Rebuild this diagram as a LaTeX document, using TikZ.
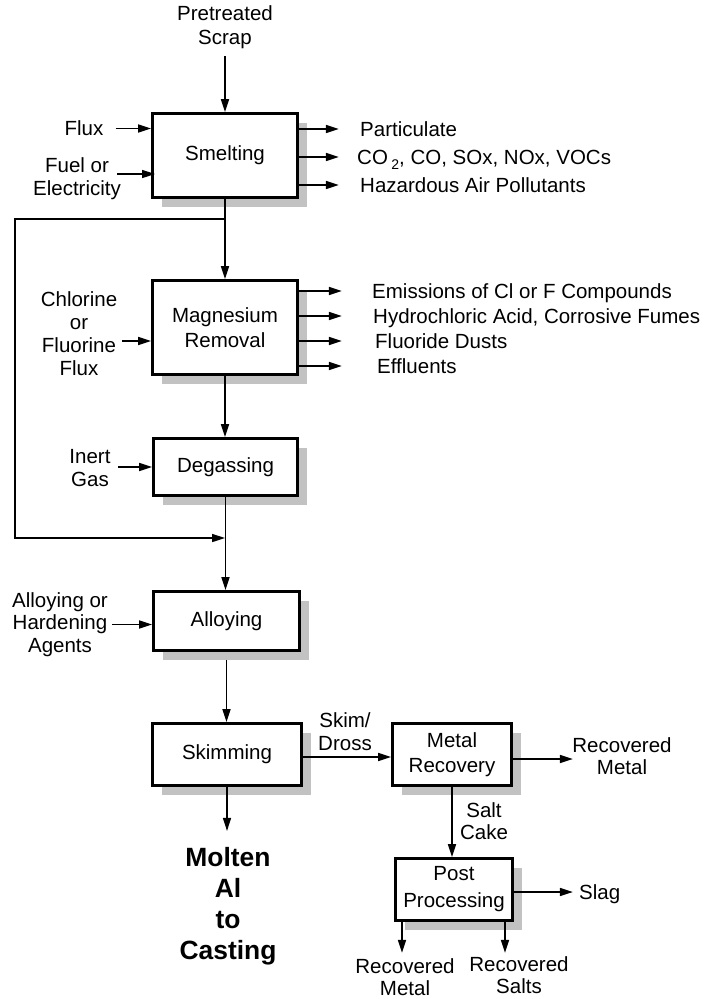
\documentclass[tikz,border=0pt]{standalone}
\usepackage{fontspec}
\setmainfont{Liberation Sans}
\usetikzlibrary{arrows.meta,shadows}

\definecolor{shade}{gray}{0.76}

\tikzset{
  x=1pt, y=-1pt,
  txt/.style={font=\fontsize{20.5}{23}\selectfont, inner sep=0pt, align=center},
  outlbl/.style={txt, anchor=west, text height=15pt, text depth=0pt},
  box/.style={font=\fontsize{20.5}{25}\selectfont, inner sep=0pt, align=center,
    draw, line width=2.8pt, fill=white,
    drop shadow={opacity=1, fill=shade, shadow xshift=9pt, shadow yshift=-9pt}},
  arr/.style={line width=1.6pt, -{Triangle[length=13pt,width=8pt]}},
}

\begin{document}
\begin{tikzpicture}
\useasboundingbox (0,0) rectangle (704,999);

% process boxes
\node[box, minimum width=145pt, minimum height=84pt] (smelt) at (225,155.5) {Smelting};
\node[box, minimum width=145pt, minimum height=94pt] (mag) at (225,327.5) {Magnesium\\Removal};
\node[box, minimum width=144pt, minimum height=57pt] (degas) at (225.5,467) {Degassing};
\node[box, minimum width=146pt, minimum height=59pt] (alloy) at (226.5,621) {Alloying};
\node[box, minimum width=149pt, minimum height=62pt] (skim) at (227,754.5) {Skimming};
\node[box, minimum width=119pt, minimum height=62pt] (mrec) at (452,754.5) {Metal\\Recovery};
\node[box, minimum width=117pt, minimum height=62pt] (post) at (454,889.5) {Post\\[2pt]Processing};

% inputs
\node[txt, font=\fontsize{20.5}{24}\selectfont] (scrap) at (225,27) {Pretreated\\Scrap};
\draw[arr] ([yshift=-7pt]scrap.south) -- (smelt.north);

\node[txt] (flux) at (84,128.5) {Flux};
\draw[arr] ([xshift=12pt]flux.east) -- (smelt.west |- flux.east);

\node[txt] (fuel) at (77,178.5) {Fuel or\\Electricity};
\coordinate (fuelout) at (117,174);
\coordinate (fuelin) at (155,174);
\draw[arr] (fuelout) -- (fuelin);

\node[txt] (clf) at (79,334) {Chlorine\\or\\Fluorine\\Flux};
\coordinate (clfout) at (122,341);
\draw[arr] (clfout) -- (mag.west |- clfout);

\node[txt] (inert) at (90,468.5) {Inert\\Gas};
\draw[arr] ([xshift=7.5pt]inert.east |- degas.west) -- (degas.west);

\node[txt, font=\fontsize{20.5}{22.5}\selectfont] (agents) at (60,624.5) {Alloying or\\Hardening\\Agents};
\draw[arr] ([xshift=4pt]agents.east) -- (alloy.west |- agents.east);

% smelting emissions
\node[outlbl] (part) at (360,129) {Particulate};
\node[outlbl] (cox) at (357,157) {CO\,\raisebox{-0.45ex}{\fontsize{14}{14}\selectfont 2}, CO, SOx, NOx, VOCs};
\node[outlbl] (hap) at (360,185) {Hazardous Air Pollutants};
\foreach \n in {part,cox,hap}
  \draw[arr] (smelt.east |- \n.west) -- ++(40,0);

% magnesium removal emissions
\node[outlbl] (emi) at (372,291) {Emissions of Cl or F Compounds};
\node[outlbl] (hcl) at (373,316) {Hydrochloric Acid, Corrosive Fumes};
\node[outlbl] (fdust) at (375,341) {Fluoride Dusts};
\node[outlbl] (eff) at (377,366) {Effluents};
\foreach \n in {emi,hcl,fdust,eff}
  \draw[arr] (mag.east |- \n.west) -- ++(43,0);

% main flow
\coordinate (split) at (225,219);
\coordinate (merge) at (225,538);
\coordinate (c1) at (15,219);
\coordinate (c2) at (15,538);
\draw[arr] (smelt.south) -- (mag.north);
\draw[arr] (mag.south) -- (mag.south |- degas.north);
\draw[arr] (degas.south) -- (degas.south |- alloy.north);
\draw[arr] (split) -- (c1) -- (c2) -- (merge);
\draw[arr] ([yshift=-8pt]alloy.south) -- (alloy.south |- skim.north);

% product
\node[txt, font=\fontsize{26.4}{31}\selectfont\bfseries] (molten) at (228,906) {Molten\\Al\\to\\Casting};
\draw[arr] (skim.south) -- ([yshift=16pt]molten.north -| skim.south);

% dross treatment
\node[txt] (dross) at (345,731.5) {Skim/\\Dross};
\draw[arr] ([yshift=-2.5pt]skim.east) -- ([yshift=-2.5pt]mrec.west);

\node[txt, font=\fontsize{20.5}{22}\selectfont] (rmetal1) at (622,756.5) {Recovered\\Metal};
\draw[arr] ([yshift=-4.5pt]mrec.east) -- ++(60,0);

\node[txt, font=\fontsize{20.5}{22}\selectfont] (salt) at (484,821.5) {Salt\\Cake};
\draw[arr] (mrec.south) -- (mrec.south |- post.north);

\node[outlbl] (slag) at (579,892) {Slag};
\draw[arr] (post.east |- slag.west) -- ++(59,0);

\node[txt, font=\fontsize{20.5}{22}\selectfont] (rmetal2) at (405,977) {Recovered\\Metal};
\node[txt, font=\fontsize{20.5}{22}\selectfont] (rsalts) at (519,975) {Recovered\\Salts};
\draw[arr] ([xshift=-52pt]post.south) -- ++(0,31);
\draw[arr] ([xshift=51pt]post.south) -- ++(0,31);
\end{tikzpicture}
\end{document}
